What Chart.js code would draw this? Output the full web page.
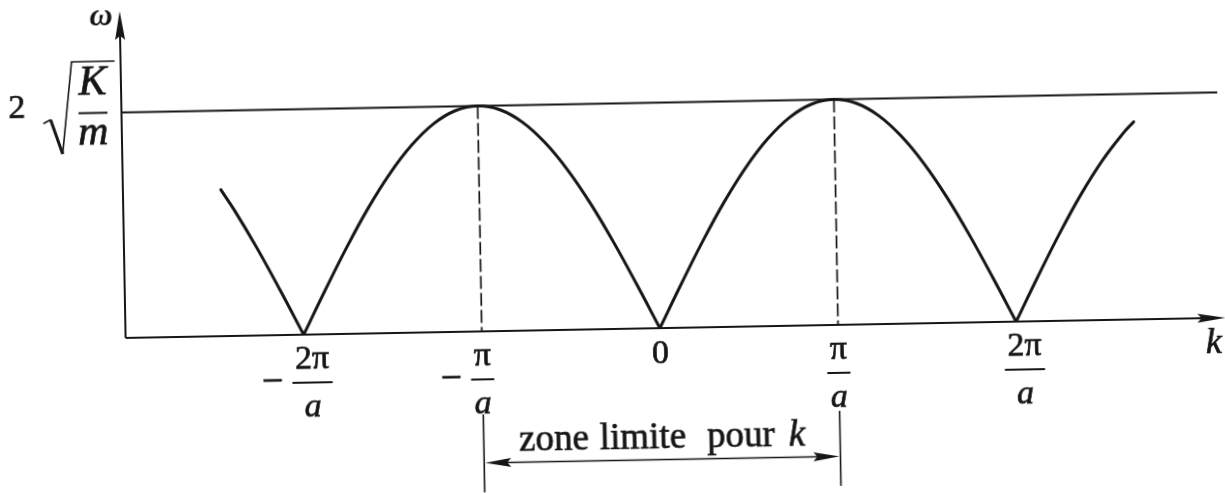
<!DOCTYPE html>
<html>
<head>
<meta charset="utf-8">
<script src="https://cdn.jsdelivr.net/npm/chart.js@4.4.1/dist/chart.umd.min.js"></script>
<style>
  html, body { margin: 0; padding: 0; background: #fff; overflow: hidden; }
  #wrap {
    position: absolute; left: 0; top: 0; width: 1225px; height: 493px;
    transform: rotate(-1.05deg); transform-origin: 612.5px 246.5px;
  }
</style>
</head>
<body>
<div id="wrap"><canvas id="dispersion" width="1225" height="493"></canvas></div>
<script>
// k in units of pi/a, omega in units of 2*sqrt(K/m); null breaks the curve at each cusp
const kSamples = [
  -2.45, -2.375, -2.25, -2.125, -2,
  -2,
  -2, -1.875, -1.75, -1.625, -1.5, -1.375, -1.25, -1.125, -1,
  -0.875, -0.75, -0.625, -0.5, -0.375, -0.25, -0.125, 0,
  0,
  0, 0.125, 0.25, 0.375, 0.5, 0.625, 0.75, 0.875, 1,
  1.125, 1.25, 1.375, 1.5, 1.625, 1.75, 1.875, 2,
  2,
  2, 2.125, 2.25, 2.375, 2.5, 2.625, 2.68
];
const omegaSamples = [
  0.649, 0.556, 0.383, 0.195, 0,
  null,
  0, 0.195, 0.383, 0.556, 0.707, 0.831, 0.924, 0.981, 1,
  0.981, 0.924, 0.831, 0.707, 0.556, 0.383, 0.195, 0,
  null,
  0, 0.195, 0.383, 0.556, 0.707, 0.831, 0.924, 0.981, 1,
  0.981, 0.924, 0.831, 0.707, 0.556, 0.383, 0.195, 0,
  null,
  0, 0.195, 0.383, 0.556, 0.707, 0.831, 0.876
];

// tick labels on the k axis
const tickValues = [-2, -1, 0, 1, 2];
const tickSigns = ['−', '−', '', '', ''];
const tickNumerators = ['2π', 'π', '0', 'π', '2π'];
const tickDenominators = ['a', 'a', '', 'a', 'a'];

// dashed guides at the zone edges, and the zone itself
const guideValues = [-1, 1];
const zoneLabel = ['zone', 'limite', 'pour'];

const ink = '#161616';
const serif = '"Liberation Serif", "DejaVu Serif", serif';

function seg(ctx, x1, y1, x2, y2) {
  ctx.beginPath();
  ctx.moveTo(x1, y1);
  ctx.lineTo(x2, y2);
  ctx.stroke();
}

// printed text is a little heavier than the plain font
function ink_text(ctx, str, x, y) {
  ctx.fillText(str, x, y);
  ctx.lineWidth = 0.7;
  ctx.strokeText(str, x, y);
}

// filled arrow head; (dx, dy) is the pointing direction
function head(ctx, tx, ty, dx, dy, len, half) {
  const px = -dy, py = dx;
  ctx.beginPath();
  ctx.moveTo(tx, ty);
  ctx.lineTo(tx - dx * len + px * half, ty - dy * len + py * half);
  ctx.lineTo(tx - dx * len * 0.85, ty - dy * len * 0.85);
  ctx.lineTo(tx - dx * len - px * half, ty - dy * len - py * half);
  ctx.closePath();
  ctx.fill();
}

const figurePlugin = {
  id: 'figure',
  beforeDatasetsDraw(chart) {
    const { ctx, chartArea } = chart;
    const xs = chart.scales.x, ys = chart.scales.y;
    const X = v => xs.getPixelForValue(v), Y = v => ys.getPixelForValue(v);
    const y0 = Y(0), y1 = Y(1), xl = X(xs.min);

    ctx.save();
    ctx.strokeStyle = ink;
    ctx.fillStyle = ink;
    ctx.lineCap = 'butt';

    // axes
    ctx.lineWidth = 2;
    seg(ctx, xl, y0, xl, chartArea.top + 20);
    head(ctx, xl, chartArea.top, 0, -1, 29, 5);
    seg(ctx, xl, y0, chartArea.right - 20, y0);
    head(ctx, chartArea.right, y0, 1, 0, 28, 4.5);

    // upper bound
    seg(ctx, xl, y1, chartArea.right - 4, y1);

    // dashed guides
    ctx.lineWidth = 1.7;
    ctx.setLineDash([13, 4]);
    guideValues.forEach(v => seg(ctx, X(v), y1, X(v), y0));
    ctx.setLineDash([]);
    ctx.restore();
  },
  afterDatasetsDraw(chart) {
    const { ctx, chartArea } = chart;
    const xs = chart.scales.x, ys = chart.scales.y;
    const X = v => xs.getPixelForValue(v), Y = v => ys.getPixelForValue(v);
    const y0 = Y(0), y1 = Y(1), xl = X(xs.min);

    ctx.save();
    ctx.fillStyle = ink;
    ctx.strokeStyle = ink;
    ctx.textBaseline = 'alphabetic';

    // k axis ticks as fractions
    tickValues.forEach((v, i) => {
      const num = tickNumerators[i], den = tickDenominators[i];
      const cx = X(v) + (num.length > 1 ? 8 : 0);
      ctx.textAlign = 'center';
      ctx.font = '34px ' + serif;
      if (!den) {
        ink_text(ctx, num, cx, y0 + 35);
        return;
      }
      ink_text(ctx, num, cx, y0 + 34);
      const w = ctx.measureText(num).width + 6;
      ctx.lineWidth = 2;
      seg(ctx, cx - w / 2, y0 + 48, cx + w / 2, y0 + 48);
      ctx.font = 'italic 34px ' + serif;
      ink_text(ctx, den, cx, y0 + 82);
      if (tickSigns[i]) {
        ctx.font = '38px ' + serif;
        ctx.textAlign = 'right';
        ink_text(ctx, tickSigns[i], cx - w / 2 - 9, y0 + 58);
      }
    });

    // axis names
    ctx.font = 'italic 36px ' + serif;
    ctx.textAlign = 'left';
    ink_text(ctx, 'k', chartArea.right - 20, y0 + 35);
    ctx.font = 'bold italic 32px ' + serif;
    ctx.textAlign = 'right';
    ctx.fillText('ω', xl - 7, chartArea.top + 14);

    // 2 sqrt(K/m) at omega = 1
    ctx.textAlign = 'left';
    ctx.font = '34px ' + serif;
    ink_text(ctx, '2', 11, y1 + 4);
    ctx.textAlign = 'center';
    ctx.font = 'italic 42px ' + serif;
    ink_text(ctx, 'K', 95.5, y1 - 18);
    ink_text(ctx, 'm', 95.5, y1 + 32);
    ctx.lineWidth = 2;
    seg(ctx, 81, y1, 110, y1);
    ctx.lineJoin = 'miter';
    ctx.lineWidth = 1.6;
    ctx.beginPath();
    ctx.moveTo(45.7, y1 + 9.8);
    ctx.lineTo(53, y1 + 6);
    ctx.stroke();
    ctx.lineWidth = 3;
    seg(ctx, 53, y1 + 6, 64.5, y1 + 40.5);
    ctx.lineWidth = 1.6;
    ctx.beginPath();
    ctx.moveTo(64.5, y1 + 40.5);
    ctx.lineTo(75, y1 - 51.5);
    ctx.lineTo(118, y1 - 51.5);
    ctx.stroke();

    // zone limite pour k
    const xa = X(guideValues[0]), xb = X(guideValues[1]), xm = X(0);
    ctx.lineWidth = 1.6;
    seg(ctx, xa, y0 + 83, xa, y0 + 161);
    seg(ctx, xb, y0 + 86, xb, y0 + 161);
    seg(ctx, xa + 20, y0 + 131.5, xb - 20, y0 + 131.5);
    head(ctx, xa + 1, y0 + 131.5, -1, 0, 26, 4.5);
    head(ctx, xb - 1, y0 + 131.5, 1, 0, 26, 4.5);
    ctx.textAlign = 'center';
    ctx.font = '37px ' + serif;
    const wordCentres = [-108, -19, 79];
    zoneLabel.forEach((w, i) => ink_text(ctx, w, xm + wordCentres[i], y0 + 120));
    ctx.font = 'italic 37px ' + serif;
    ink_text(ctx, 'k', xm + 135, y0 + 120);
    ctx.restore();
  }
};

const ctx = document.getElementById('dispersion').getContext('2d');
new Chart(ctx, {
  type: 'line',
  data: {
    datasets: [{
      data: kSamples.map((k, i) => ({ x: k, y: omegaSamples[i] })),
      borderColor: ink,
      borderWidth: 3,
      borderCapStyle: 'round',
      pointRadius: 0,
      tension: 0.4,
      spanGaps: false,
      fill: false
    }]
  },
  options: {
    responsive: false,
    animation: false,
    events: [],
    layout: { padding: { left: 124, right: 1, top: 2, bottom: 164 } },
    plugins: {
      legend: { display: false },
      tooltip: { enabled: false }
    },
    scales: {
      x: { type: 'linear', min: -3, max: 3.175, display: false },
      y: { type: 'linear', min: 0, max: 1.45, display: false }
    }
  },
  plugins: [figurePlugin]
});
</script>
</body>
</html>
